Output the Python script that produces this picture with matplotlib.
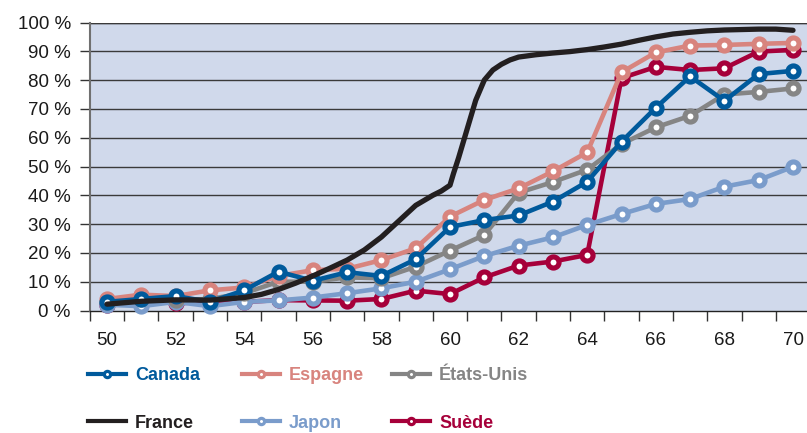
import matplotlib
matplotlib.use("Agg")
import matplotlib.pyplot as plt
from matplotlib.lines import Line2D
from matplotlib.ticker import FixedLocator, FuncFormatter

# ---------------- data ----------------
ages = list(range(50, 71))
canada = [3, 4, 5, 3, 7, 13.5, 10.3, 13.3, 12, 17.8, 29, 31.4, 33, 37.8, 44.7,
          58.6, 70.4, 81.3, 72.8, 82.1, 83.2]
espagne = [4, 5.5, 5, 7, 8, 12, 14, 14.5, 17.5, 21.6, 32.6, 38.4, 42.4, 48.3,
           54.9, 82.7, 89.6, 92, 92.2, 92.6, 92.9]
etats_unis = [3, 4, 3.6, 4, 6, 10, 10, 11.5, 11.2, 15.2, 20.8, 26.2, 40.9, 44.6,
              48.9, 57.8, 63.6, 67.6, 75, 75.9, 77.1]
japon = [2, 1.5, 3, 1.5, 3, 3.5, 4.5, 6, 7.7, 10, 14.3, 18.9, 22.5, 25.4, 29.7,
         33.5, 37, 38.7, 43, 45.3, 49.9]
suede = [2, 5, 2.5, 3, 3, 3.6, 3.5, 3.4, 4, 6.9, 5.7, 11.5, 15.6, 17, 19.3,
         80.7, 84.6, 83.5, 84.1, 89.9, 90.5]
france_ages = [50, 51, 52, 53, 54, 54.5, 55, 55.5, 56, 56.5, 57, 57.5, 58, 58.5,
               59, 59.5, 59.75, 60, 60.1, 60.25, 60.5, 60.75, 61, 61.25, 61.5,
               61.75, 62, 62.5, 63, 63.5, 64, 64.5, 65, 65.5, 66, 66.5, 67, 67.5,
               68, 69, 69.5, 70]
france = [2.2, 3.2, 3.7, 3.6, 4.5, 5.6, 7.3, 9.5, 12, 14.7, 17.5, 21, 25.5, 31,
          36.5, 40, 41.5, 43.5, 47.5, 53, 63, 73, 80, 83.5, 85.5, 87, 88, 88.8,
          89.4, 89.9, 90.6, 91.5, 92.5, 93.8, 95, 96, 96.6, 97.1, 97.4, 97.7,
          97.7, 97.3]
x_labels = list(range(50, 71, 2))
y_ticks = list(range(0, 101, 10))

# ---------------- style ----------------
C_CAN = "#005A9C"
C_ESP = "#D8847E"
C_USA = "#858585"
C_FRA = "#231F20"
C_JAP = "#7A9CCB"
C_SUE = "#A6003A"
BG = "#D0D9EB"

plt.rcParams['font.family'] = ['Liberation Sans', 'DejaVu Sans']

W, H = 807, 433
fig = plt.figure(figsize=(W / 100, H / 100), dpi=100)
left = 89.85 / W
bottom = 1 - 310.5 / H
top = 1 - 22.5 / H
ax = fig.add_axes([left, bottom, 1 - left, top - bottom])
ax.set_facecolor(BG)

ax.set_xlim(49.5, 49.5 + (W - 89.85) / 34.3)
ax.set_ylim(0, 100)

# grid
for v in y_ticks[1:]:
    ax.axhline(v, color="#3a3a3a", lw=1.0, zorder=1)

lw = 3.3
ms = 8.0
mew = 3.7

def series(y, c, z):
    ax.plot(ages, y, color=c, lw=lw, marker="o", ms=ms, mew=mew,
            mfc="white", mec=c, zorder=z, solid_joinstyle="round",
            clip_on=False)

series(suede, C_SUE, 3)
series(japon, C_JAP, 4)
series(etats_unis, C_USA, 5)
series(espagne, C_ESP, 6)
series(canada, C_CAN, 7)
ax.plot(france_ages, france, color=C_FRA, lw=3.8, zorder=8,
        solid_joinstyle="round", solid_capstyle="round")

# spines
for s in ["right", "top"]:
    ax.spines[s].set_visible(False)
ax.spines["left"].set_color("#707070")
ax.spines["left"].set_linewidth(1.5)
ax.spines["bottom"].set_color("#222222")
ax.spines["bottom"].set_linewidth(1.0)
ax.axhline(100, color="#3a3a3a", lw=1.0, zorder=1)

# ticks
ax.set_yticks(y_ticks)
ax.yaxis.set_major_formatter(FuncFormatter(lambda v, p: f"{int(v)} %"))
ax.tick_params(axis="y", length=7.2, width=1.0, color="#333333", pad=6.5,
               labelsize=13.5, labelcolor="#1a1a1a")
ax.set_xticks(x_labels)
ax.set_xticklabels([str(a) for a in x_labels])
ax.tick_params(axis="x", which="major", length=0, pad=15.5, labelsize=13.5,
               labelcolor="#1a1a1a")
ax.xaxis.set_minor_locator(FixedLocator([a + 0.5 for a in range(49, 71)]))
ax.tick_params(axis="x", which="minor", length=7.2, width=1.0, color="#333333")

# legend (3 columns, 2 rows)
def h(c, marker=True):
    if marker:
        return Line2D([], [], color=c, lw=3.0, marker="o", ms=4.5, mew=2.3,
                      mfc="white", mec=c)
    return Line2D([], [], color=c, lw=3.0)

cols = [
    (88, [(h(C_CAN), "Canada", C_CAN), (h(C_FRA, False), "France", C_FRA)]),
    (242, [(h(C_ESP), "Espagne", C_ESP), (h(C_JAP), "Japon", C_JAP)]),
    (392, [(h(C_USA), "États-Unis", C_USA), (h(C_SUE), "Suède", C_SUE)]),
]
legprops = dict(family=['Liberation Sans', 'DejaVu Sans'], weight="bold", size=13)
fs_px = 13 * 100 / 72
for xpx, items in cols:
    leg = fig.legend([i[0] for i in items], [i[1] for i in items],
                     loc="center left", bbox_to_anchor=(xpx / W, 1 - 399.5 / H),
                     frameon=False, prop=legprops,
                     handlelength=38 / fs_px, handletextpad=9 / fs_px,
                     borderpad=0, borderaxespad=0, labelspacing=1.69)
    for t, it in zip(leg.get_texts(), items):
        t.set_color(it[2])

fig.savefig("out.png", dpi=100, facecolor="white")
